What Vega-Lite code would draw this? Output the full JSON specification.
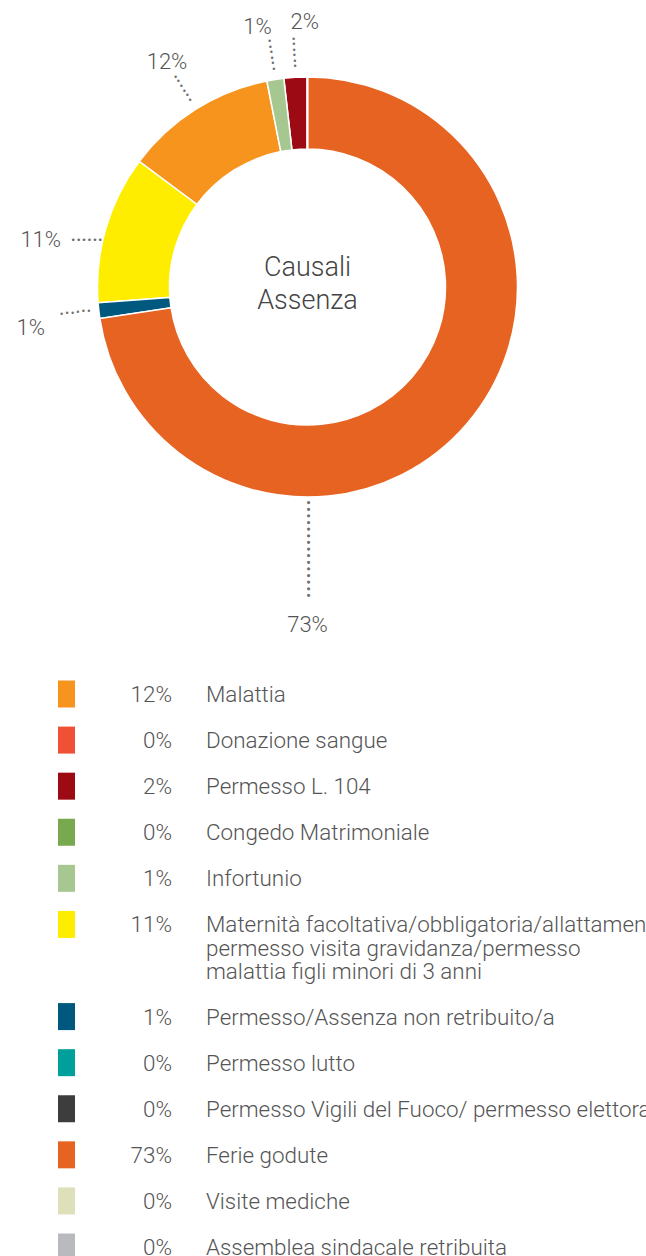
{
  "$schema": "https://vega.github.io/schema/vega-lite/v6.json",
  "padding": 0,
  "background": "white",
  "spacing": 120,
  "bounds": "flush",
  "config": {"view": {"stroke": null}, "font": "Roboto"},
  "data": {"values": [
    {"cat": "Malattia", "label": "Malattia", "v": 0.117, "pie": 4},
    {"cat": "Donazione sangue", "label": "Donazione sangue", "v": 0, "pie": 7},
    {"cat": "Permesso L. 104", "label": "Permesso L. 104", "v": 0.018, "pie": 6},
    {"cat": "Congedo Matrimoniale", "label": "Congedo Matrimoniale", "v": 0, "pie": 8},
    {"cat": "Infortunio", "label": "Infortunio", "v": 0.013, "pie": 5},
    {"cat": "Maternità", "label": "Maternità facoltativa/obbligatoria/allattamento/\npermesso visita gravidanza/permesso\nmalattia figli minori di 3 anni", "v": 0.114, "pie": 3},
    {"cat": "Permesso/Assenza non retribuito/a", "label": "Permesso/Assenza non retribuito/a", "v": 0.012, "pie": 2},
    {"cat": "Permesso lutto", "label": "Permesso lutto", "v": 0, "pie": 9},
    {"cat": "Permesso Vigili del Fuoco", "label": "Permesso Vigili del Fuoco/ permesso elettorale", "v": 0, "pie": 10},
    {"cat": "Ferie godute", "label": "Ferie godute", "v": 0.726, "pie": 1},
    {"cat": "Visite mediche", "label": "Visite mediche", "v": 0, "pie": 11},
    {"cat": "Assemblea sindacale retribuita", "label": "Assemblea sindacale retribuita", "v": 0, "pie": 12}
  ]},
  "vconcat": [
    {
      "width": 615,
      "height": 574,
      "layer": [
        {
          "data": {"values": [{"title": "Causali\nAssenza"}]},
          "mark": {"type": "text", "fontSize": 27, "lineHeight": 33, "lineBreak": "\n", "fontWeight": 300, "align": "center", "baseline": "middle", "dy": -19},
          "encoding": {"text": {"field": "title"}, "color": {"value": "#444444"}}
        },
        {
          "encoding": {
            "theta": {"field": "v", "type": "quantitative", "stack": true, "scale": {"domain": [0, 1]}},
            "order": {"field": "pie", "type": "quantitative"},
            "color": {"field": "cat", "type": "nominal", "legend": null,
              "scale": {
                "domain": ["Malattia", "Donazione sangue", "Permesso L. 104", "Congedo Matrimoniale", "Infortunio", "Maternità", "Permesso/Assenza non retribuito/a", "Permesso lutto", "Permesso Vigili del Fuoco", "Ferie godute", "Visite mediche", "Assemblea sindacale retribuita"],
                "range": ["#F7941D", "#F05033", "#9C0A13", "#78A94E", "#A7C791", "#FFED00", "#00587F", "#00A09A", "#3D3D3D", "#E66322", "#DDE0B9", "#B8BABE"]
              }}
          },
          "layer": [
            {"mark": {"type": "arc", "innerRadius": 138, "outerRadius": 210, "stroke": "white", "strokeWidth": 1.5}},
            {"mark": {"type": "text", "radius": 220, "fontSize": 8, "font": "DejaVu Sans", "baseline": "middle"},
             "encoding": {"color": {"value": "#6e6e6e"}, "text": {"condition": {"test": "datum.v > 0 && datum.cat != 'Ferie godute' && datum.cat != 'Maternità'", "value": "•"}, "value": ""}}},
            {"mark": {"type": "text", "radius": 225.5, "fontSize": 8, "font": "DejaVu Sans", "baseline": "middle"},
             "encoding": {"color": {"value": "#6e6e6e"}, "text": {"condition": {"test": "datum.v > 0 && datum.cat != 'Ferie godute' && datum.cat != 'Maternità'", "value": "•"}, "value": ""}}},
            {"mark": {"type": "text", "radius": 231, "fontSize": 8, "font": "DejaVu Sans", "baseline": "middle"},
             "encoding": {"color": {"value": "#6e6e6e"}, "text": {"condition": {"test": "datum.v > 0 && datum.cat != 'Ferie godute' && datum.cat != 'Maternità'", "value": "•"}, "value": ""}}},
            {"mark": {"type": "text", "radius": 236.5, "fontSize": 8, "font": "DejaVu Sans", "baseline": "middle"},
             "encoding": {"color": {"value": "#6e6e6e"}, "text": {"condition": {"test": "datum.v > 0 && datum.cat != 'Ferie godute' && datum.cat != 'Maternità'", "value": "•"}, "value": ""}}},
            {"mark": {"type": "text", "radius": 242, "fontSize": 8, "font": "DejaVu Sans", "baseline": "middle"},
             "encoding": {"color": {"value": "#6e6e6e"}, "text": {"condition": {"test": "datum.v > 0 && datum.cat != 'Ferie godute' && datum.cat != 'Maternità'", "value": "•"}, "value": ""}}},
            {"mark": {"type": "text", "radius": 247.5, "fontSize": 8, "font": "DejaVu Sans", "baseline": "middle"},
             "encoding": {"color": {"value": "#6e6e6e"}, "text": {"condition": {"test": "datum.v > 0 && datum.cat != 'Ferie godute' && datum.cat != 'Maternità'", "value": "•"}, "value": ""}}},
            {"mark": {"type": "text", "radius": 233, "dx": 3, "dy": 18, "font": "DejaVu Sans Mono", "fontSize": 9, "align": "center", "baseline": "middle"},
             "encoding": {"color": {"value": "#6e6e6e"}, "text": {"condition": {"test": "datum.cat == 'Maternità'", "value": "••••••"}, "value": ""}}},
            {"mark": {"type": "text", "radius": 270, "dx": 3.5, "dy": 3.5, "fontSize": 22, "fontWeight": 300, "align": "center", "baseline": "middle"},
             "encoding": {"text": {"field": "v", "type": "quantitative", "format": ".0%", "condition": {"test": "datum.cat != 'Malattia'", "value": ""}}, "color": {"value": "#555555"}}},
            {"mark": {"type": "text", "radius": 270, "dx": -8.5, "dy": 7, "fontSize": 22, "fontWeight": 300, "align": "center", "baseline": "middle"},
             "encoding": {"text": {"field": "v", "type": "quantitative", "format": ".0%", "condition": {"test": "datum.cat != 'Infortunio'", "value": ""}}, "color": {"value": "#555555"}}},
            {"mark": {"type": "text", "radius": 270, "dx": 12.5, "dy": 4.5, "fontSize": 22, "fontWeight": 300, "align": "center", "baseline": "middle"},
             "encoding": {"text": {"field": "v", "type": "quantitative", "format": ".0%", "condition": {"test": "datum.cat != 'Permesso L. 104'", "value": ""}}, "color": {"value": "#555555"}}},
            {"mark": {"type": "text", "radius": 270, "dx": -7.5, "dy": 28, "fontSize": 22, "fontWeight": 300, "align": "center", "baseline": "middle"},
             "encoding": {"text": {"field": "v", "type": "quantitative", "format": ".0%", "condition": {"test": "datum.cat != 'Maternità'", "value": ""}}, "color": {"value": "#555555"}}},
            {"mark": {"type": "text", "radius": 270, "dx": -8.5, "dy": 10.5, "fontSize": 22, "fontWeight": 300, "align": "center", "baseline": "middle"},
             "encoding": {"text": {"field": "v", "type": "quantitative", "format": ".0%", "condition": {"test": "datum.cat != 'Permesso/Assenza non retribuito/a'", "value": ""}}, "color": {"value": "#555555"}}}
          ]
        },
        {
          "transform": [{"filter": "datum.cat == 'Ferie godute'"}],
          "encoding": {"theta": {"datum": 0.5, "type": "quantitative"}},
          "layer": [
            {"mark": {"type": "text", "radius": 338, "fontSize": 22, "fontWeight": 300, "align": "center", "baseline": "middle"},
             "encoding": {"text": {"field": "v", "type": "quantitative", "format": ".0%"}, "color": {"value": "#555555"}}},
            {"mark": {"type": "text", "text": "•••••••••••••••", "radius": 262, "angle": 90, "font": "DejaVu Sans Mono", "fontSize": 11, "align": "center", "baseline": "middle"},
             "encoding": {"color": {"value": "#6e6e6e"}}}
          ]
        }
      ]
    },
    {
      "width": 646,
      "height": 553,
      "encoding": {
        "y": {"field": "cat", "type": "nominal", "axis": null,
          "scale": {"type": "point", "padding": 0,
            "domain": ["Malattia", "Donazione sangue", "Permesso L. 104", "Congedo Matrimoniale", "Infortunio", "Maternità", "__gap", "Permesso/Assenza non retribuito/a", "Permesso lutto", "Permesso Vigili del Fuoco", "Ferie godute", "Visite mediche", "Assemblea sindacale retribuita"]}}
      },
      "layer": [
        {
          "mark": {"type": "tick", "orient": "vertical", "thickness": 17, "size": 27, "opacity": 1},
          "encoding": {
            "x": {"datum": 66.5, "type": "quantitative", "axis": null, "scale": {"domain": [0, 646], "nice": false, "zero": true}},
            "color": {"field": "cat", "type": "nominal", "legend": null,
              "scale": {
                "domain": ["Malattia", "Donazione sangue", "Permesso L. 104", "Congedo Matrimoniale", "Infortunio", "Maternità", "Permesso/Assenza non retribuito/a", "Permesso lutto", "Permesso Vigili del Fuoco", "Ferie godute", "Visite mediche", "Assemblea sindacale retribuita"],
                "range": ["#F7941D", "#F05033", "#9C0A13", "#78A94E", "#A7C791", "#FFED00", "#00587F", "#00A09A", "#3D3D3D", "#E66322", "#DDE0B9", "#B8BABE"]
              }}
          }
        },
        {
          "mark": {"type": "text", "align": "right", "baseline": "alphabetic", "dy": 8, "fontSize": 22.4, "fontWeight": 300},
          "encoding": {
            "x": {"datum": 172, "type": "quantitative"},
            "text": {"field": "v", "type": "quantitative", "format": ".0%"},
            "color": {"value": "#555555"}
          }
        },
        {
          "mark": {"type": "text", "align": "left", "baseline": "alphabetic", "dy": 8, "fontSize": 22.4, "fontWeight": 300, "lineBreak": "\n", "lineHeight": 23.5},
          "encoding": {
            "x": {"datum": 206, "type": "quantitative"},
            "text": {"field": "label"},
            "color": {"value": "#555555"}
          }
        }
      ]
    }
  ]
}
